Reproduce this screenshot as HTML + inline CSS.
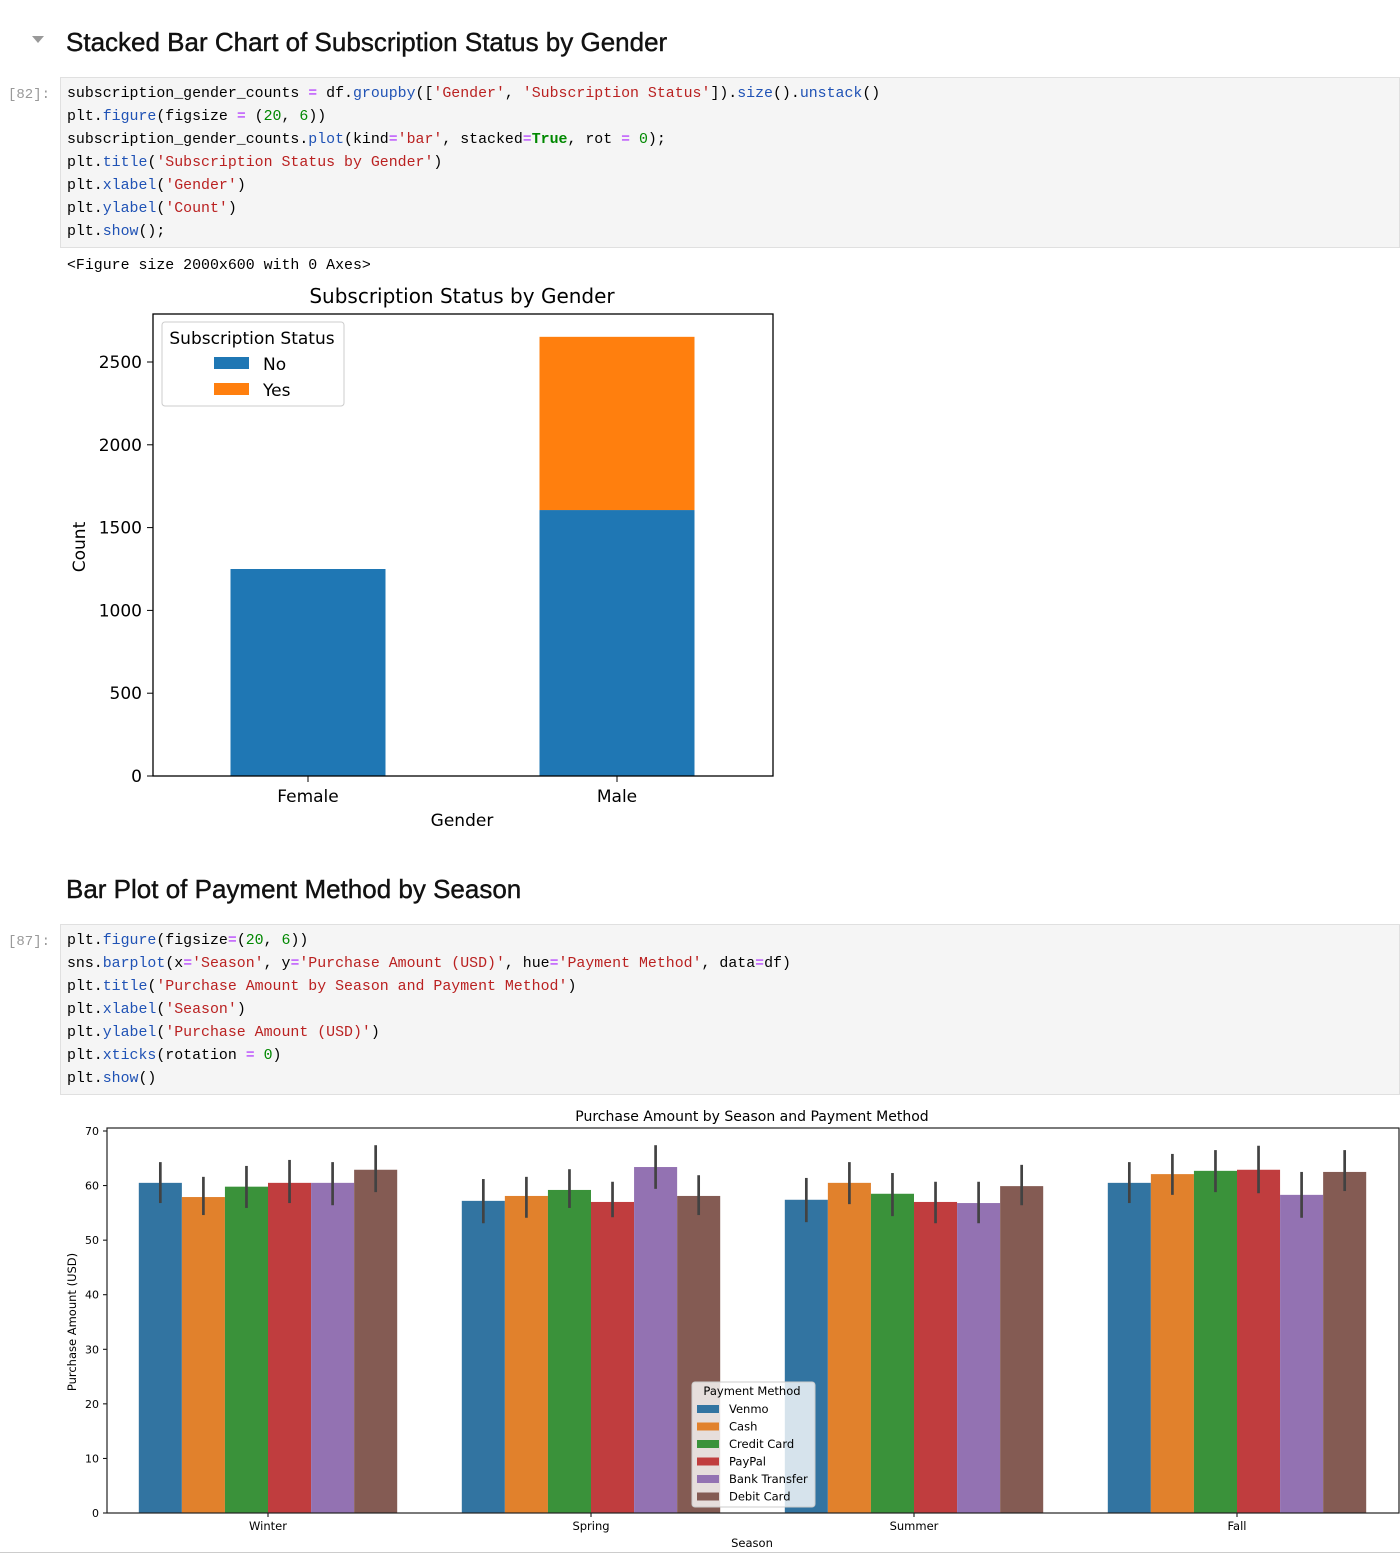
<!DOCTYPE html>
<html><head><meta charset="utf-8"><style>
body{margin:0;width:1400px;height:1554px;background:#fff;position:relative;overflow:hidden;font-family:"Liberation Sans","DejaVu Sans",sans-serif}
.h{position:absolute;left:66px;font-size:26px;color:#111;font-family:"Liberation Sans","DejaVu Sans",sans-serif;-webkit-text-stroke:0.4px #111}
.cell{position:absolute;left:60px;width:1340px;background:#f5f5f5;border:1px solid #e0e0e0;box-sizing:border-box}
.code{position:absolute;left:67px;font-family:"Liberation Mono","DejaVu Sans Mono",monospace;font-size:14.9px;line-height:23px;white-space:pre;color:#000}
.pr{position:absolute;left:8px;font-family:"Liberation Mono",monospace;font-size:14px;color:#999}
.f{color:#1f52b5}.s{color:#ba2121}.n{color:#080}.o{color:#a2f}.k{color:#080;font-weight:bold}
svg text{font-family:"DejaVu Sans","Liberation Sans",sans-serif}
</style></head><body>
<div style="position:absolute;left:32px;top:36px;width:0;height:0;border-left:6px solid transparent;border-right:6px solid transparent;border-top:7px solid #999"></div>
<div class="h" style="top:27px">Stacked Bar Chart of Subscription Status by Gender</div>
<div class="pr" style="top:87px">[82]:</div>
<div class="cell" style="top:77px;height:171px"></div>
<div class="code" style="top:83px">subscription_gender_counts <span class="o">=</span> df.<span class="f">groupby</span>([<span class="s">'Gender'</span>, <span class="s">'Subscription Status'</span>]).<span class="f">size</span>().<span class="f">unstack</span>()
plt.<span class="f">figure</span>(figsize <span class="o">=</span> (<span class="n">20</span>, <span class="n">6</span>))
subscription_gender_counts.<span class="f">plot</span>(kind<span class="o">=</span><span class="s">'bar'</span>, stacked<span class="o">=</span><span class="k">True</span>, rot <span class="o">=</span> <span class="n">0</span>);
plt.<span class="f">title</span>(<span class="s">'Subscription Status by Gender'</span>)
plt.<span class="f">xlabel</span>(<span class="s">'Gender'</span>)
plt.<span class="f">ylabel</span>(<span class="s">'Count'</span>)
plt.<span class="f">show</span>();</div>
<div class="code" style="top:255px">&lt;Figure size 2000x600 with 0 Axes&gt;</div>

<svg id="c1" style="position:absolute;left:0;top:0" width="800" height="850"></svg>

<div class="h" style="top:874px">Bar Plot of Payment Method by Season</div>
<div class="pr" style="top:934px">[87]:</div>
<div class="cell" style="top:924px;height:171px"></div>
<div class="code" style="top:930px">plt.<span class="f">figure</span>(figsize<span class="o">=</span>(<span class="n">20</span>, <span class="n">6</span>))
sns.<span class="f">barplot</span>(x<span class="o">=</span><span class="s">'Season'</span>, y<span class="o">=</span><span class="s">'Purchase Amount (USD)'</span>, hue<span class="o">=</span><span class="s">'Payment Method'</span>, data<span class="o">=</span>df)
plt.<span class="f">title</span>(<span class="s">'Purchase Amount by Season and Payment Method'</span>)
plt.<span class="f">xlabel</span>(<span class="s">'Season'</span>)
plt.<span class="f">ylabel</span>(<span class="s">'Purchase Amount (USD)'</span>)
plt.<span class="f">xticks</span>(rotation <span class="o">=</span> <span class="n">0</span>)
plt.<span class="f">show</span>()</div>
<div style="position:absolute;left:0;top:1552px;width:1400px;height:1px;background:#ccc"></div>

<svg id="c2" style="position:absolute;left:0;top:0" width="1400" height="1554"></svg>

<script>
const genders=['Female','Male'];
const subNo=[1250,1606];
const subYes=[0,1046];
const c1Ticks=[0,500,1000,1500,2000,2500];

const seasons=['Winter','Spring','Summer','Fall'];
const methods=['Venmo','Cash','Credit Card','PayPal','Bank Transfer','Debit Card'];
const winterVals=[60.5,57.9,59.8,60.5,60.5,62.9];
const springVals=[57.2,58.1,59.2,57.0,63.4,58.1];
const summerVals=[57.4,60.5,58.5,57.0,56.8,59.9];
const fallVals=[60.5,62.1,62.7,62.9,58.3,62.5];
const winterLo=[56.8,54.6,55.9,56.8,56.4,58.8];
const winterHi=[64.3,61.6,63.6,64.7,64.3,67.4];
const springLo=[53.1,54.1,55.9,54.2,59.4,54.6];
const springHi=[61.2,61.6,63.0,60.7,67.4,61.9];
const summerLo=[53.3,56.6,54.4,53.1,53.1,56.4];
const summerHi=[61.4,64.3,62.3,60.7,60.7,63.8];
const fallLo=[56.8,58.3,58.8,58.6,54.1,59.0];
const fallHi=[64.3,65.8,66.5,67.3,62.5,66.5];
const c2Ticks=[0,10,20,30,40,50,60,70];

const NS='http://www.w3.org/2000/svg';
function mk(svg,tag,attrs,txt){const e=document.createElementNS(NS,tag);for(const k in attrs)e.setAttribute(k,attrs[k]);if(txt!==undefined)e.textContent=txt;svg.appendChild(e);return e;}

// Chart 1
const s1=document.getElementById('c1');
const y1=v=>776-v*0.1656;
const x1=i=>308+i*309;
const bw1=155;
let t=mk(s1,'text',{x:462,y:303,'font-size':20,'text-anchor':'middle',fill:'#000'},'Subscription Status by Gender');

genders.forEach((g,i)=>{
  let r=mk(s1,'rect',{x:x1(i)-bw1/2,y:y1(subNo[i]),width:bw1,height:776-y1(subNo[i]),fill:'#1f77b4'});
  
  if(subYes[i]>0){let r2=mk(s1,'rect',{x:x1(i)-bw1/2,y:y1(subNo[i]+subYes[i]),width:bw1,height:y1(subNo[i])-y1(subNo[i]+subYes[i]),fill:'#ff7f0e'});
  }
  mk(s1,'line',{x1:x1(i),x2:x1(i),y1:776,y2:782,stroke:'#000'});
  let l=mk(s1,'text',{x:x1(i),y:802,'font-size':17,'text-anchor':'middle'},g);
  
});
c1Ticks.forEach(v=>{mk(s1,'line',{x1:147,x2:153,y1:y1(v),y2:y1(v),stroke:'#000'});
  let l=mk(s1,'text',{x:142,y:y1(v)+6,'font-size':17,'text-anchor':'end'},v);
  });
mk(s1,'rect',{x:153,y:314,width:620,height:462,fill:'none',stroke:'#000','stroke-width':1.3});
t=mk(s1,'text',{x:462,y:826,'font-size':17,'text-anchor':'middle'},'Gender');

t=mk(s1,'text',{x:85,y:547,'font-size':17,'text-anchor':'middle',transform:'rotate(-90 85 547)'},'Count');

let lg=mk(s1,'rect',{x:162,y:322,width:182,height:84,rx:3,fill:'#fff',stroke:'#ccc'});

mk(s1,'text',{x:252,y:344,'font-size':17,'text-anchor':'middle'},'Subscription Status');
[['No','#1f77b4',364],['Yes','#ff7f0e',390]].forEach(a=>{mk(s1,'rect',{x:214,y:a[2]-7,width:35,height:12,fill:a[1]});
  let e=mk(s1,'text',{x:263,y:a[2]+6,'font-size':17},a[0]);});

// Chart 2
const s2=document.getElementById('c2');
const colors=['#3274a1','#e1812c','#3a923a','#c03d3e','#9372b2','#845b53'];
const vals=[winterVals,springVals,summerVals,fallVals];
const los=[winterLo,springLo,summerLo,fallLo];
const his=[winterHi,springHi,summerHi,fallHi];
const y2=v=>1513-v*5.457;
const xc=i=>268+i*323;
const bw2=323*0.8/6;
t=mk(s2,'text',{x:752,y:1121,'font-size':14,'text-anchor':'middle'},'Purchase Amount by Season and Payment Method');

seasons.forEach((s,i)=>{
  methods.forEach((m,j)=>{
    const x=xc(i)-323*0.4+j*bw2;
    let r=mk(s2,'rect',{x:x,y:y2(vals[i][j]),width:bw2,height:1513-y2(vals[i][j]),fill:colors[j]});
    
    let e=mk(s2,'line',{x1:x+bw2/2,x2:x+bw2/2,y1:y2(los[i][j]),y2:y2(his[i][j]),stroke:'#424242','stroke-width':2.7});
    
  });
  mk(s2,'line',{x1:xc(i),x2:xc(i),y1:1513,y2:1517,stroke:'#000'});
  let l=mk(s2,'text',{x:xc(i),y:1530,'font-size':11.5,'text-anchor':'middle'},s);
  
});
c2Ticks.forEach(v=>{mk(s2,'line',{x1:103,x2:107,y1:y2(v),y2:y2(v),stroke:'#000'});
  let l=mk(s2,'text',{x:99,y:y2(v)+4,'font-size':11,'text-anchor':'end'},v);
  });
mk(s2,'rect',{x:107,y:1128,width:1292,height:385,fill:'none',stroke:'#222','stroke-width':1.2});
t=mk(s2,'text',{x:752,y:1547,'font-size':11.5,'text-anchor':'middle'},'Season');

t=mk(s2,'text',{x:76,y:1322,'font-size':11.5,'text-anchor':'middle',transform:'rotate(-90 76 1322)'},'Purchase Amount (USD)');

lg=mk(s2,'rect',{x:692,y:1382,width:123,height:125,rx:3,fill:'#fff','fill-opacity':0.8,stroke:'#ccc'});

mk(s2,'text',{x:752,y:1395,'font-size':11.5,'text-anchor':'middle'},'Payment Method');
methods.forEach((m,j)=>{const yy=1409+j*17.5;mk(s2,'rect',{x:697,y:yy-4,width:22,height:8,fill:colors[j]});
  let e=mk(s2,'text',{x:729,y:yy+4,'font-size':11.5},m);});
</script>
</body></html>
